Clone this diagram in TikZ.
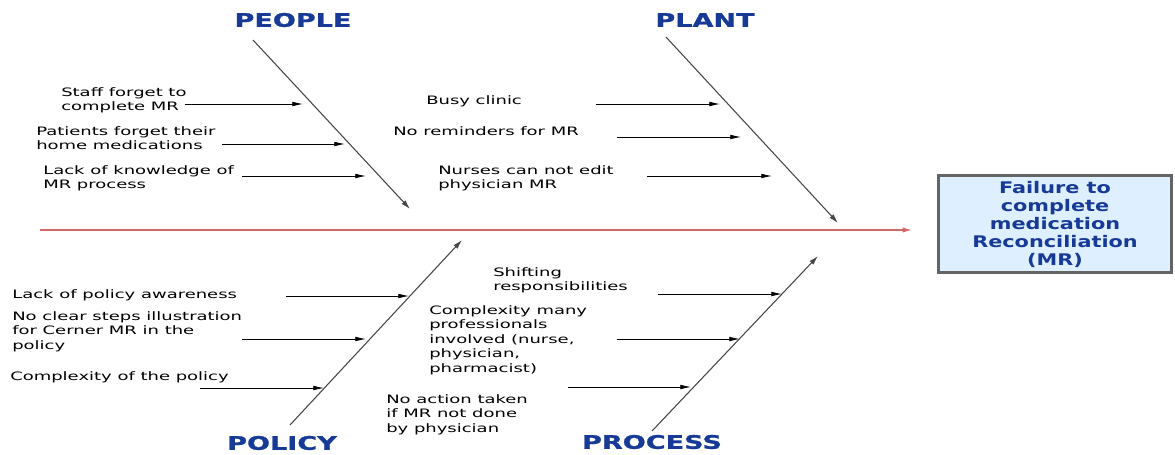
\documentclass[tikz,border=0pt]{standalone}
\usepackage{fontspec}
\usetikzlibrary{arrows.meta}
\newfontfamily\smallf[FakeStretch=1.55]{DejaVu Sans}
\newfontfamily\titlef[FakeStretch=1.45,FakeBold=1.2]{DejaVu Sans Bold}
\newfontfamily\boxf[FakeStretch=1.3]{DejaVu Sans Bold}
\definecolor{lblblue}{RGB}{22,58,150}
\definecolor{boxfill}{RGB}{222,239,255}
\definecolor{boxedge}{RGB}{100,100,100}
\definecolor{spinered}{RGB}{212,104,104}
\definecolor{bonegray}{RGB}{70,70,70}
\begin{document}
\begin{tikzpicture}[x=0.75pt,y=-0.75pt,
  cause/.style={anchor=north west,inner sep=0pt,align=left,font=\smallf\fontsize{8.7}{10.9}\selectfont},
  cat/.style={inner sep=0pt,text=lblblue,font=\titlef\fontsize{14}{16}\selectfont},
  bone/.style={draw=bonegray,line width=0.8pt,-{Latex[length=7pt,width=4pt]}},
  sub/.style={draw=black,line width=0.6pt,-{Latex[length=8pt,width=3.5pt]}},
  effect/.style={draw=boxedge,line width=1.8pt,fill=boxfill,minimum width=233*0.75pt,minimum height=97*0.75pt,align=center,text=lblblue,font=\boxf\fontsize{12}{13.5}\selectfont,inner sep=0pt}]
\useasboundingbox (0,0) rectangle (1175,454);
% effect box and spine
\node[effect] (eff) at (1055,224) {Failure to\\complete\\medication\\Reconciliation\\(MR)};
\coordinate (sp0) at (40,230);
\coordinate (sp1) at (912,230);
\draw[draw=spinered,line width=0.9pt,-{Latex[length=7pt,width=4pt]}] (sp0) -- (sp1);
% category labels
\node[cat] (people) at (293,20) {PEOPLE};
\node[cat] (plant) at (705,20) {PLANT};
\node[cat] (policy) at (282,443) {POLICY};
\node[cat] (process) at (652,442) {PROCESS};
% bones
\coordinate (pe0) at (253,40); \coordinate (pe1) at (410,209);
\coordinate (pl0) at (666,37); \coordinate (pl1) at (838,223);
\coordinate (po0) at (290,425); \coordinate (po1) at (462,240);
\coordinate (pr0) at (652,431); \coordinate (pr1) at (818,256);
\draw[bone] (pe0) -- (pe1);
\draw[bone] (pl0) -- (pl1);
\draw[bone] (po0) -- (po1);
\draw[bone] (pr0) -- (pr1);
% PEOPLE causes
\node[cause] (c1) at (61,87) {Staff forget to\\complete MR};
\node[cause] (c2) at (36,126) {Patients forget their\\home medications};
\node[cause] (c3) at (43,165) {Lack of knowledge of\\MR process};
\coordinate (a1s) at (185,104); \coordinate (a1e) at (303,104);
\coordinate (a2s) at (222,144); \coordinate (a2e) at (345,144);
\coordinate (a3s) at (242,176); \coordinate (a3e) at (366,176);
\draw[sub] (a1s) -- (a1e);
\draw[sub] (a2s) -- (a2e);
\draw[sub] (a3s) -- (a3e);
% PLANT causes
\node[cause] (c4) at (426,95) {Busy clinic};
\node[cause] (c5) at (393,126) {No reminders for MR};
\node[cause] (c6) at (438,165) {Nurses can not edit\\physician MR};
\coordinate (a4s) at (596,104); \coordinate (a4e) at (720,104);
\coordinate (a5s) at (617,137); \coordinate (a5e) at (741,137);
\coordinate (a6s) at (647,176); \coordinate (a6e) at (772,176);
\draw[sub] (a4s) -- (a4e);
\draw[sub] (a5s) -- (a5e);
\draw[sub] (a6s) -- (a6e);
% POLICY causes
\node[cause] (c7) at (12,289) {Lack of policy awareness};
\node[cause] (c8) at (12,311) {No clear steps illustration\\for Cerner MR in the\\policy};
\node[cause] (c9) at (10,371) {Complexity of the policy};
\coordinate (a7s) at (286,296); \coordinate (a7e) at (409,296);
\coordinate (a8s) at (242,339); \coordinate (a8e) at (366,339);
\coordinate (a9s) at (200,388); \coordinate (a9e) at (324,388);
\draw[sub] (a7s) -- (a7e);
\draw[sub] (a8s) -- (a8e);
\draw[sub] (a9s) -- (a9e);
% PROCESS causes
\node[cause] (c10) at (493,267) {Shifting\\responsibilities};
\node[cause] (c11) at (429,305) {Complexity many\\professionals\\involved (nurse,\\physician,\\pharmacist)};
\node[cause] (c12) at (386,394) {No action taken\\if MR not done\\by physician};
\coordinate (a10s) at (658,294); \coordinate (a10e) at (782,294);
\coordinate (a11s) at (617,339); \coordinate (a11e) at (740,339);
\coordinate (a12s) at (568,387); \coordinate (a12e) at (691,387);
\draw[sub] (a10s) -- (a10e);
\draw[sub] (a11s) -- (a11e);
\draw[sub] (a12s) -- (a12e);
\end{tikzpicture}
\end{document}
